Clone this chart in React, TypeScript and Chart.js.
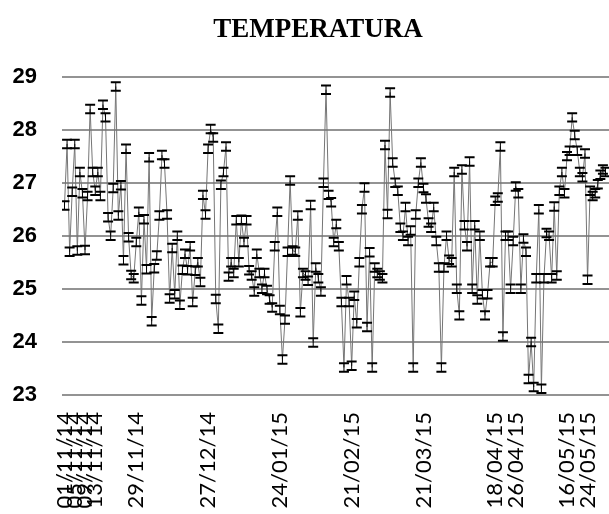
import React, { useEffect, useRef } from "react";
import { Chart, registerables } from "chart.js";

Chart.register(...registerables);

// Daily mean temperature, one value per day starting 01/11/14
const TEMPERATURE: number[] = [
  26.57, 27.73, 25.70, 26.83, 27.73, 25.72, 27.20, 26.80, 25.73, 26.75,
  28.39, 27.20, 26.85, 27.20, 26.75, 28.47, 28.23, 26.35, 26.00, 26.90,
  28.81, 26.38, 26.95, 25.54, 27.64, 25.97, 25.26, 25.20, 25.88, 26.45,
  24.78, 26.31, 25.37, 27.48, 24.39, 25.39, 25.63, 26.38, 27.52, 27.36,
  26.40, 24.82, 25.77, 24.90, 26.00, 24.70, 25.36, 25.66, 25.35, 25.80,
  24.75, 25.34, 25.50, 25.13, 26.77, 26.40, 27.64, 28.01, 27.85, 24.81,
  24.25, 26.96, 27.20, 27.68, 25.23, 25.50, 25.30, 26.29, 25.50, 26.30,
  25.88, 26.29, 25.35, 25.25, 24.95, 25.66, 25.30, 25.00, 25.30, 24.98,
  24.80, 24.65, 25.80, 26.45, 24.60, 23.67, 24.42, 25.70, 27.04, 25.72,
  25.70, 26.38, 24.56, 25.30, 25.25, 25.15, 26.58, 23.99, 25.40, 25.20,
  24.95, 27.00, 28.75, 26.77, 26.63, 25.88, 26.22, 25.80, 24.75, 23.52,
  25.16, 24.75, 23.55, 24.87, 24.35, 25.50, 26.50, 26.91, 24.28, 25.69,
  23.52, 25.40, 25.30, 25.25, 25.20, 27.71, 26.41, 28.70, 27.38, 27.00,
  26.85, 26.15, 26.00, 26.54, 25.90, 26.10, 23.52, 26.40, 27.00, 27.38,
  26.90, 26.70, 26.25, 26.15, 26.54, 25.90, 25.40, 23.52, 25.40, 26.00,
  25.55, 25.50, 27.20, 25.00, 24.50, 27.25, 26.20, 25.80, 27.40, 25.00,
  26.20, 24.80, 26.00, 24.90, 24.50, 24.90, 25.50, 25.50, 26.66, 26.72,
  27.68, 24.10, 26.00, 26.00, 25.00, 25.90, 26.93, 26.80, 25.00, 25.95,
  25.70, 23.30, 24.00, 23.15, 25.20, 26.50, 23.12, 25.20, 26.05, 26.00,
  25.20, 26.55, 25.25, 26.85, 27.20, 26.80, 27.50, 27.60, 28.23, 27.90,
  27.60, 27.20, 27.10, 27.55, 25.17, 26.85, 26.75, 26.80, 26.97, 27.15,
  27.25, 27.20,
];

// Half-width of the error bars (°C)
const ERROR = 0.08;

// Day index (from 01/11/14) of each labelled category, and its label
const TICK_INDEX: number[] = [0, 4, 8, 12, 28, 56, 84, 112, 140, 168, 176, 196, 204];
const TICK_LABELS: string[] = [
  "01/11/14", "05/11/14", "09/11/14", "13/11/14", "29/11/14", "27/12/14",
  "24/01/15", "21/02/15", "21/03/15", "18/04/15", "26/04/15", "16/05/15", "24/05/15",
];

const Y_TICKS: number[] = [23, 24, 25, 26, 27, 28, 29];

const errorBarPlugin = {
  id: "errorBars",
  afterDatasetsDraw(chart: any) {
    const meta = chart.getDatasetMeta(0);
    const yScale = chart.scales.y;
    const ctx = chart.ctx;
    const area = chart.chartArea;
    ctx.save();
    ctx.beginPath();
    ctx.rect(area.left, area.top - 10, area.right - area.left, area.bottom - area.top + 20);
    ctx.clip();
    ctx.strokeStyle = "#000000";
    meta.data.forEach((pt: any, i: number) => {
      const v = TEMPERATURE[i];
      const x = pt.x;
      const yt = yScale.getPixelForValue(v + ERROR);
      const yb = yScale.getPixelForValue(v - ERROR);
      ctx.lineWidth = 1;
      ctx.beginPath();
      ctx.moveTo(x, yt);
      ctx.lineTo(x, yb);
      ctx.stroke();
      ctx.lineWidth = 2;
      ctx.beginPath();
      ctx.moveTo(x - 5, yt);
      ctx.lineTo(x + 5, yt);
      ctx.moveTo(x - 5, yb);
      ctx.lineTo(x + 5, yb);
      ctx.stroke();
    });
    ctx.restore();
  },
};

export default function App() {
  const canvasRef = useRef<HTMLCanvasElement | null>(null);

  useEffect(() => {
    if (!canvasRef.current) return;
    const chart = new Chart(canvasRef.current, {
      type: "line",
      data: {
        datasets: [
          {
            label: "Temperatura",
            data: TEMPERATURE.map((v, i) => ({ x: i, y: v })),
            borderColor: "#757575",
            borderWidth: 1,
            pointRadius: 0,
            tension: 0,
            fill: false,
          },
        ],
      },
      options: {
        responsive: false,
        animation: false,
        layout: { padding: { left: 0, right: 10, top: 0, bottom: 0 } },
        plugins: {
          legend: { display: false },
          tooltip: { enabled: false },
          title: {
            display: true,
            text: "TEMPERATURA",
            color: "#000000",
            font: { family: "'Liberation Serif', 'Times New Roman', serif", size: 27, weight: "bold" },
            padding: { top: 13.8, bottom: 30.3 },
          },
        },
        scales: {
          x: {
            type: "linear",
            min: -0.975,
            max: 222.9,
            grid: { display: false, drawTicks: false },
            border: { display: false },
            afterBuildTicks: (scale: any) => {
              scale.ticks = TICK_INDEX.map((v) => ({ value: v }));
            },
            afterFit: (scale: any) => {
              scale.height = 119;
            },
            ticks: {
              autoSkip: false,
              minRotation: 90,
              maxRotation: 90,
              padding: 17,
              color: "#000000",
              font: { family: "Lato, 'Liberation Sans', sans-serif", size: 22 },
              callback: (value: any) => {
                const k = TICK_INDEX.indexOf(Number(value));
                return k >= 0 ? TICK_LABELS[k] : "";
              },
            },
          },
          y: {
            min: 23,
            max: 29,
            afterBuildTicks: (scale: any) => {
              scale.ticks = Y_TICKS.map((v) => ({ value: v }));
            },
            afterFit: (scale: any) => {
              scale.width = 62;
            },
            grid: { color: "#939393", lineWidth: 2, drawTicks: false },
            border: { display: false },
            ticks: {
              padding: 25,
              color: "#000000",
              font: { family: "'Liberation Sans', Arial, sans-serif", size: 22, weight: "bold" },
            },
          },
        },
      },
      plugins: [errorBarPlugin],
    });
    return () => chart.destroy();
  }, []);

  return (
    <div
      style={{
        position: "absolute",
        left: 0,
        top: 0,
        width: 609,
        height: 514,
        overflow: "hidden",
        background: "#ffffff",
      }}
    >
      <canvas ref={canvasRef} width={646} height={514} style={{ display: "block" }} />
    </div>
  );
}
